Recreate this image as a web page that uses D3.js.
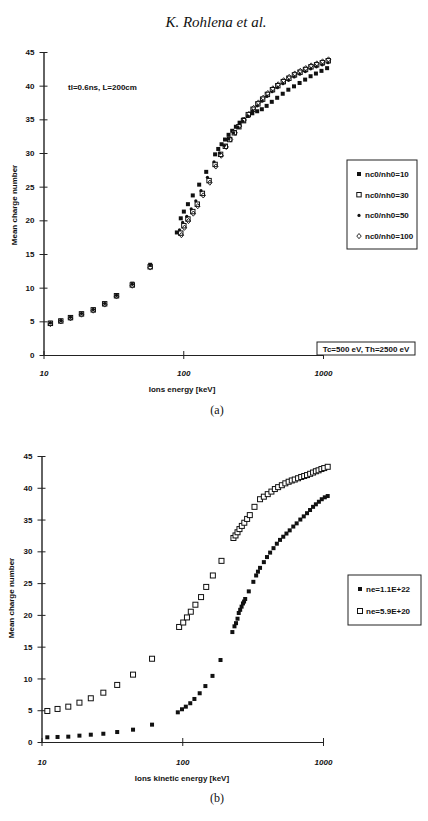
<!DOCTYPE html>
<html>
<head>
<meta charset="utf-8">
<script src="https://cdn.jsdelivr.net/npm/d3@7"></script>
<style>
  body { margin: 0; background: #fff; }
  svg text { font-family: "Liberation Sans", Arial, sans-serif; fill: #111; }
  .lbl { font-size: 8px; font-weight: bold; }
  .serif { font-family: "Liberation Serif", "Times New Roman", serif; }
</style>
</head>
<body>
<div id="chart-area"></div>
<script>
// panel (a) - four nc0/nh0 ratios
const a10E = [11.2, 13.3, 15.6, 18.7, 22.7, 27.4, 33.3, 43.2, 58, 90, 96, 101, 108, 117, 130, 146, 169, 178, 188, 199, 211, 224, 238, 253, 270, 290, 312, 338, 365, 395, 430, 470, 515, 565, 620, 680, 745, 815, 890, 975, 1070]
const a10Z = [4.8, 5.1, 5.6, 6.2, 6.8, 7.7, 8.9, 10.6, 13.4, 18.2, 20.3, 21.3, 22.4, 23.7, 25.3, 27.2, 29.8, 30.6, 31.3, 32.0, 32.7, 33.3, 33.9, 34.5, 35.0, 35.5, 35.9, 36.2, 36.5, 37.0, 37.6, 38.2, 38.8, 39.4, 39.9, 40.4, 40.9, 41.4, 41.8, 42.2, 42.6]

const a30E = [11.2, 13.3, 15.6, 18.7, 22.7, 27.4, 33.3, 43.2, 58, 96, 101, 108, 117, 126, 137, 153, 169, 185, 200, 215, 232, 250, 270, 292, 316, 342, 370, 400, 435, 475, 520, 570, 625, 685, 750, 820, 900, 990, 1090]
const a30Z = [4.7, 5.05, 5.55, 6.1, 6.7, 7.6, 8.8, 10.4, 13.1, 18.1, 19.2, 20.2, 21.3, 22.4, 24.0, 25.9, 28.3, 29.8, 31.0, 32.0, 33.0, 33.9, 34.8, 35.7, 36.5, 37.3, 38.0, 38.7, 39.4, 40.0, 40.6, 41.1, 41.6, 42.0, 42.4, 42.8, 43.1, 43.4, 43.7]

const a50E = [11.2, 13.3, 15.6, 18.7, 22.7, 27.4, 33.3, 43.2, 58, 94, 99, 106, 114, 123, 134, 149, 166, 182, 197, 212, 229, 247, 267, 289, 313, 339, 367, 397, 432, 472, 517, 567, 622, 682, 747, 817, 897, 987, 1085]
const a50Z = [4.75, 5.1, 5.6, 6.15, 6.75, 7.65, 8.85, 10.5, 13.3, 18.6, 19.7, 20.6, 21.7, 22.9, 24.4, 26.4, 28.7, 30.0, 31.1, 32.1, 33.0, 33.8, 34.7, 35.5, 36.3, 37.0, 37.7, 38.4, 39.1, 39.7, 40.3, 40.8, 41.3, 41.7, 42.1, 42.5, 42.8, 43.1, 43.4]

const a100E = [11.2, 13.3, 15.6, 18.7, 22.7, 27.4, 33.3, 43.2, 58, 97, 102, 109, 118, 127, 139, 155, 171, 187, 203, 218, 235, 253, 273, 295, 319, 345, 373, 403, 438, 478, 523, 573, 628, 688, 753, 823, 903, 993, 1095]
const a100Z = [4.6, 5.0, 5.45, 6.0, 6.6, 7.5, 8.7, 10.3, 13.0, 17.8, 18.9, 19.9, 21.0, 22.1, 23.7, 25.6, 28.0, 29.6, 30.9, 32.0, 33.0, 34.0, 34.9, 35.8, 36.7, 37.5, 38.2, 38.9, 39.6, 40.2, 40.8, 41.3, 41.8, 42.2, 42.6, 43.0, 43.3, 43.6, 43.9]

// panel (b) - two electron densities
const b22E = [11, 13, 15.5, 18.6, 22.4, 27.5, 34.5, 44.7, 61, 93, 99.6, 106, 114, 122, 133, 146, 164, 187, 227, 235, 241, 247, 252, 258, 264, 270, 275, 280, 297, 320, 335, 345, 357, 380, 400, 421, 445, 470, 495, 522, 550, 580, 615, 650, 690, 730, 770, 809, 850, 890, 935, 980, 1030, 1080]
const b22Z = [0.74, 0.79, 0.84, 1.0, 1.15, 1.3, 1.57, 1.94, 2.73, 4.67, 5.15, 5.56, 6.1, 6.77, 7.67, 8.8, 10.4, 12.9, 17.3, 18.2, 18.7, 19.4, 20.3, 20.8, 21.3, 21.8, 22.1, 22.5, 23.7, 25.2, 26.2, 26.8, 27.4, 28.3, 29.1, 29.8, 30.5, 31.2, 31.8, 32.3, 32.8, 33.3, 33.9, 34.4, 35.0, 35.5, 36.0, 36.5, 37.0, 37.4, 37.8, 38.2, 38.5, 38.7]

const b20E = [11, 13, 15.5, 18.6, 22.4, 27.5, 34.5, 44.7, 61, 95, 101.6, 108, 115, 124, 136, 148, 165, 190, 231, 239, 247, 255, 265, 276, 289, 302, 326, 357, 380, 405, 430, 455, 480, 510, 540, 570, 600, 630, 665, 700, 735, 770, 810, 850, 890, 930, 975, 1020, 1080]
const b20Z = [4.88, 5.2, 5.56, 6.19, 6.88, 7.76, 8.98, 10.6, 13.1, 18.1, 18.8, 19.6, 20.5, 21.6, 22.8, 24.4, 26.2, 28.5, 32.1, 32.5, 33.0, 33.5, 34.0, 34.5, 35.1, 35.7, 37.0, 38.2, 38.6, 39.0, 39.4, 39.8, 40.1, 40.4, 40.7, 40.95, 41.15, 41.3, 41.5, 41.7, 41.85, 42.0, 42.2, 42.4, 42.6, 42.75, 42.95, 43.1, 43.3]

const yTicks = [0, 5, 10, 15, 20, 25, 30, 35, 40, 45]
const xTicks = [10, 100, 1000]
const xTickLabels = ["10", "100", "1000"]

const svg = d3.select("#chart-area").append("svg")
  .attr("width", 428)
  .attr("height", 821)

svg.append("rect").attr("width", 428).attr("height", 821).attr("fill", "#fff")

// page header
svg.append("text")
  .attr("class", "serif")
  .attr("x", 216).attr("y", 27)
  .attr("text-anchor", "middle")
  .attr("font-size", "15px")
  .attr("font-style", "italic")
  .text("K. Rohlena et al.")

// marker painters
function marker(sel, type) {
  if (type === "fsq") {
    sel.append("rect").attr("x", -2).attr("y", -2).attr("width", 4).attr("height", 4).attr("fill", "#111")
  } else if (type === "hsq") {
    sel.append("rect").attr("x", -2.2).attr("y", -2.2).attr("width", 4.4).attr("height", 4.4)
      .attr("fill", "#fff").attr("stroke", "#111").attr("stroke-width", 1)
  } else if (type === "hsqb") {
    sel.append("rect").attr("x", -2.5).attr("y", -2.5).attr("width", 5).attr("height", 5)
      .attr("fill", "#fff").attr("stroke", "#111").attr("stroke-width", 1)
  } else if (type === "dot") {
    sel.append("circle").attr("r", 1.6).attr("fill", "#111")
  } else if (type === "dia") {
    sel.append("path").attr("d", "M0,-2.6L2.2,0L0,2.6L-2.2,0Z")
      .attr("fill", "none").attr("stroke", "#111").attr("stroke-width", 0.9)
  }
}

function panel(cfg) {
  const x = d3.scaleLog().domain([10, 1000]).range([cfg.left, cfg.right])
  const y = d3.scaleLinear().domain([0, 45]).range([cfg.bottom, cfg.top])
  const g = svg.append("g")

  // Y axis
  const yAxis = g.append("g")
    .attr("transform", `translate(${cfg.left}, 0)`)
    .call(d3.axisLeft(y).tickValues(yTicks).tickSize(4).tickSizeOuter(0))
  yAxis.select(".domain").attr("stroke", "#222").attr("stroke-width", 1.4)
  yAxis.selectAll(".tick line").attr("x1", -4).attr("x2", 4).attr("stroke", "#222")
  yAxis.selectAll(".tick text").attr("x", -cfg.ylabGap).attr("class", "lbl")
    .attr("font-family", null).attr("font-size", null)

  // X axis
  const xAxis = g.append("g")
    .attr("transform", `translate(0, ${cfg.bottom})`)
    .call(d3.axisBottom(x).tickValues(xTicks).tickFormat((d, i) => xTickLabels[i]).tickSize(4).tickSizeOuter(0))
  xAxis.select(".domain").attr("stroke", "#222").attr("stroke-width", 1)
  xAxis.selectAll(".tick line").attr("y1", -4).attr("y2", 4).attr("stroke", "#222")
  xAxis.selectAll(".tick text").attr("y", cfg.xlabGap).attr("dy", null).attr("class", "lbl")
    .attr("font-style", "italic").attr("font-family", null).attr("font-size", null)

  // axis titles
  g.append("text").attr("class", "lbl")
    .attr("transform", `translate(${cfg.ytitleX}, ${cfg.ytitleY}) rotate(-90)`)
    .attr("text-anchor", "middle")
    .text("Mean charge number")
  g.append("text").attr("class", "lbl")
    .attr("x", 182).attr("y", cfg.bottom + cfg.xtitleGap)
    .attr("text-anchor", "middle")
    .text(cfg.xtitle)
  g.append("text").attr("class", "serif")
    .attr("x", 217).attr("y", cfg.bottom + cfg.capGap)
    .attr("text-anchor", "middle")
    .attr("font-size", "12px")
    .text(cfg.caption)

  // series
  cfg.series.forEach(s => {
    const pts = s.E.map((e, i) => [e, s.Z[i]])
    g.append("g").selectAll("g")
      .data(pts).enter().append("g")
      .attr("transform", d => `translate(${x(d[0])}, ${y(d[1])})`)
      .each(function () { marker(d3.select(this), s.type) })
  })

  // legend box
  const lg = g.append("g")
  lg.append("rect")
    .attr("x", cfg.legend.x).attr("y", cfg.legend.y)
    .attr("width", cfg.legend.w).attr("height", cfg.legend.h)
    .attr("fill", "#fff").attr("stroke", "#222").attr("stroke-width", 1)
  cfg.series.forEach((s, i) => {
    const yy = cfg.legend.y + cfg.legend.first + i * cfg.legend.step
    marker(lg.append("g").attr("transform", `translate(${cfg.legend.x + 12}, ${yy})`), s.type)
    lg.append("text").attr("class", "lbl")
      .attr("x", cfg.legend.x + 18).attr("y", yy + 2.8)
      .attr("font-size", "7.5px").attr("font-weight", "normal")
      .text(s.name)
  })
  return g
}

const ga = panel({
  left: 43.5, right: 323, top: 52, bottom: 355,
  ylabGap: 9, xlabGap: 21, xtitleGap: 37, capGap: 59,
  ytitleX: 17, ytitleY: 205,
  xtitle: "Ions energy [keV]", caption: "(a)",
  legend: { x: 347, y: 160, w: 70, h: 89, first: 14, step: 20.7 },
  series: [
    { name: "nc0/nh0=10", type: "fsq", E: a10E, Z: a10Z },
    { name: "nc0/nh0=30", type: "hsq", E: a30E, Z: a30Z },
    { name: "nc0/nh0=50", type: "dot", E: a50E, Z: a50Z },
    { name: "nc0/nh0=100", type: "dia", E: a100E, Z: a100Z }
  ]
})

ga.append("text").attr("class", "lbl")
  .attr("x", 68).attr("y", 90)
  .attr("font-size", "7.5px").attr("font-weight", "normal")
  .text("tl=0.6ns, L=200cm")

ga.append("rect").attr("x", 317).attr("y", 342).attr("width", 98).attr("height", 13)
  .attr("fill", "#fff").attr("stroke", "#222").attr("stroke-width", 1)
ga.append("text").attr("class", "lbl")
  .attr("x", 366).attr("y", 351.5)
  .attr("text-anchor", "middle")
  .attr("font-size", "7.5px").attr("font-weight", "normal")
  .text("Tc=500 eV, Th=2500 eV")

panel({
  left: 41.5, right: 323, top: 456, bottom: 742,
  ylabGap: 9, xlabGap: 23, xtitleGap: 39, capGap: 60,
  ytitleX: 14, ytitleY: 598,
  xtitle: "Ions kinetic energy [keV]", caption: "(b)",
  legend: { x: 348, y: 575, w: 73, h: 50, first: 14, step: 22 },
  series: [
    { name: "ne=1.1E+22", type: "fsq", E: b22E, Z: b22Z },
    { name: "ne=5.9E+20", type: "hsqb", E: b20E, Z: b20Z }
  ]
})
</script>
</body>
</html>
